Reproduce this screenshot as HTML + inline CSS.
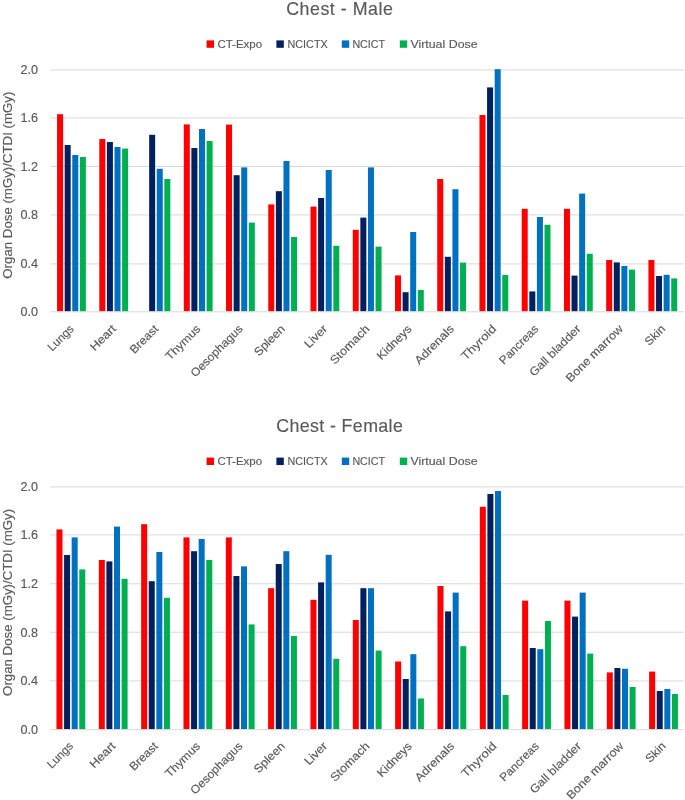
<!DOCTYPE html>
<html><head><meta charset="utf-8"><style>
html,body{margin:0;padding:0;background:#fff;}
body{width:685px;height:800px;overflow:hidden;}
svg{display:block;filter:blur(0.35px);}
text{font-family:"Liberation Sans", sans-serif;fill:#595959;stroke:#595959;stroke-width:0.15px;}
.yl{font-size:12.6px;}
.xl{font-size:11.6px;}
.tt{font-size:17.8px;}
.lg{font-size:11.2px;}
.yt{font-size:13.6px;}
</style></head><body>
<svg width="685" height="800" viewBox="0 0 685 800">
<rect width="685" height="800" fill="#fff"/>
<rect x="50.40" y="263.40" width="633.60" height="1" fill="#D9D9D9"/>
<rect x="50.40" y="214.43" width="633.60" height="1" fill="#D9D9D9"/>
<rect x="50.40" y="165.95" width="633.60" height="1" fill="#D9D9D9"/>
<rect x="50.40" y="117.43" width="633.60" height="1" fill="#D9D9D9"/>
<rect x="50.40" y="69.43" width="633.60" height="1" fill="#D9D9D9"/>
<text id="c0y0" x="38.0" y="316.30" text-anchor="end" class="yl">0.0</text>
<text id="c0y1" x="38.0" y="268.40" text-anchor="end" class="yl">0.4</text>
<text id="c0y2" x="38.0" y="219.43" text-anchor="end" class="yl">0.8</text>
<text id="c0y3" x="38.0" y="170.95" text-anchor="end" class="yl">1.2</text>
<text id="c0y4" x="38.0" y="122.43" text-anchor="end" class="yl">1.6</text>
<text id="c0y5" x="38.0" y="74.43" text-anchor="end" class="yl">2.0</text>
<rect x="57.07" y="114.20" width="6.0" height="197.20" fill="#FF0000"/>
<rect x="64.67" y="145.00" width="6.0" height="166.40" fill="#002060"/>
<rect x="72.27" y="155.00" width="6.0" height="156.40" fill="#0070C0"/>
<rect x="79.87" y="157.00" width="6.0" height="154.40" fill="#00B050"/>
<rect x="99.31" y="139.00" width="6.0" height="172.40" fill="#FF0000"/>
<rect x="106.91" y="142.00" width="6.0" height="169.40" fill="#002060"/>
<rect x="114.51" y="147.00" width="6.0" height="164.40" fill="#0070C0"/>
<rect x="122.11" y="148.60" width="6.0" height="162.80" fill="#00B050"/>
<rect x="149.15" y="134.80" width="6.0" height="176.60" fill="#002060"/>
<rect x="156.75" y="168.80" width="6.0" height="142.60" fill="#0070C0"/>
<rect x="164.35" y="179.00" width="6.0" height="132.40" fill="#00B050"/>
<rect x="183.79" y="124.40" width="6.0" height="187.00" fill="#FF0000"/>
<rect x="191.39" y="148.00" width="6.0" height="163.40" fill="#002060"/>
<rect x="198.99" y="129.00" width="6.0" height="182.40" fill="#0070C0"/>
<rect x="206.59" y="141.00" width="6.0" height="170.40" fill="#00B050"/>
<rect x="226.03" y="124.60" width="6.0" height="186.80" fill="#FF0000"/>
<rect x="233.63" y="175.20" width="6.0" height="136.20" fill="#002060"/>
<rect x="241.23" y="167.40" width="6.0" height="144.00" fill="#0070C0"/>
<rect x="248.83" y="222.60" width="6.0" height="88.80" fill="#00B050"/>
<rect x="268.27" y="204.40" width="6.0" height="107.00" fill="#FF0000"/>
<rect x="275.87" y="191.20" width="6.0" height="120.20" fill="#002060"/>
<rect x="283.47" y="161.00" width="6.0" height="150.40" fill="#0070C0"/>
<rect x="291.07" y="237.00" width="6.0" height="74.40" fill="#00B050"/>
<rect x="310.51" y="206.60" width="6.0" height="104.80" fill="#FF0000"/>
<rect x="318.11" y="198.00" width="6.0" height="113.40" fill="#002060"/>
<rect x="325.71" y="170.00" width="6.0" height="141.40" fill="#0070C0"/>
<rect x="333.31" y="245.80" width="6.0" height="65.60" fill="#00B050"/>
<rect x="352.75" y="229.80" width="6.0" height="81.60" fill="#FF0000"/>
<rect x="360.35" y="217.60" width="6.0" height="93.80" fill="#002060"/>
<rect x="367.95" y="167.40" width="6.0" height="144.00" fill="#0070C0"/>
<rect x="375.55" y="246.60" width="6.0" height="64.80" fill="#00B050"/>
<rect x="394.99" y="275.40" width="6.0" height="36.00" fill="#FF0000"/>
<rect x="402.59" y="292.20" width="6.0" height="19.20" fill="#002060"/>
<rect x="410.19" y="232.00" width="6.0" height="79.40" fill="#0070C0"/>
<rect x="417.79" y="290.00" width="6.0" height="21.40" fill="#00B050"/>
<rect x="437.23" y="179.00" width="6.0" height="132.40" fill="#FF0000"/>
<rect x="444.83" y="256.80" width="6.0" height="54.60" fill="#002060"/>
<rect x="452.43" y="189.20" width="6.0" height="122.20" fill="#0070C0"/>
<rect x="460.03" y="262.60" width="6.0" height="48.80" fill="#00B050"/>
<rect x="479.47" y="115.00" width="6.0" height="196.40" fill="#FF0000"/>
<rect x="487.07" y="87.40" width="6.0" height="224.00" fill="#002060"/>
<rect x="494.67" y="69.20" width="6.0" height="242.20" fill="#0070C0"/>
<rect x="502.27" y="275.00" width="6.0" height="36.40" fill="#00B050"/>
<rect x="521.71" y="208.80" width="6.0" height="102.60" fill="#FF0000"/>
<rect x="529.31" y="291.40" width="6.0" height="20.00" fill="#002060"/>
<rect x="536.91" y="217.00" width="6.0" height="94.40" fill="#0070C0"/>
<rect x="544.51" y="224.80" width="6.0" height="86.60" fill="#00B050"/>
<rect x="563.95" y="208.80" width="6.0" height="102.60" fill="#FF0000"/>
<rect x="571.55" y="275.60" width="6.0" height="35.80" fill="#002060"/>
<rect x="579.15" y="193.60" width="6.0" height="117.80" fill="#0070C0"/>
<rect x="586.75" y="253.80" width="6.0" height="57.60" fill="#00B050"/>
<rect x="606.19" y="260.00" width="6.0" height="51.40" fill="#FF0000"/>
<rect x="613.79" y="262.40" width="6.0" height="49.00" fill="#002060"/>
<rect x="621.39" y="266.00" width="6.0" height="45.40" fill="#0070C0"/>
<rect x="628.99" y="269.60" width="6.0" height="41.80" fill="#00B050"/>
<rect x="648.43" y="260.00" width="6.0" height="51.40" fill="#FF0000"/>
<rect x="656.03" y="276.00" width="6.0" height="35.40" fill="#002060"/>
<rect x="663.63" y="274.80" width="6.0" height="36.60" fill="#0070C0"/>
<rect x="671.23" y="278.40" width="6.0" height="33.00" fill="#00B050"/>
<rect x="50.40" y="311.30" width="633.60" height="1" fill="#D9D9D9"/>
<text id="c0x0" x="74.52" y="329.60" text-anchor="end" class="xl" transform="rotate(-45 74.52 329.60)" textLength="31.34" lengthAdjust="spacingAndGlyphs">Lungs</text>
<text id="c0x1" x="116.76" y="329.60" text-anchor="end" class="xl" transform="rotate(-45 116.76 329.60)" textLength="31.02" lengthAdjust="spacingAndGlyphs">Heart</text>
<text id="c0x2" x="159.00" y="329.60" text-anchor="end" class="xl" transform="rotate(-45 159.00 329.60)" textLength="34.73" lengthAdjust="spacingAndGlyphs">Breast</text>
<text id="c0x3" x="201.24" y="329.60" text-anchor="end" class="xl" transform="rotate(-45 201.24 329.60)" textLength="44.11" lengthAdjust="spacingAndGlyphs">Thymus</text>
<text id="c0x4" x="243.48" y="329.60" text-anchor="end" class="xl" transform="rotate(-45 243.48 329.60)" textLength="68.15" lengthAdjust="spacingAndGlyphs">Oesophagus</text>
<text id="c0x5" x="285.72" y="329.60" text-anchor="end" class="xl" transform="rotate(-45 285.72 329.60)" textLength="38.27" lengthAdjust="spacingAndGlyphs">Spleen</text>
<text id="c0x6" x="327.96" y="329.60" text-anchor="end" class="xl" transform="rotate(-45 327.96 329.60)" textLength="26.90" lengthAdjust="spacingAndGlyphs">Liver</text>
<text id="c0x7" x="370.20" y="329.60" text-anchor="end" class="xl" transform="rotate(-45 370.20 329.60)" textLength="49.97" lengthAdjust="spacingAndGlyphs">Stomach</text>
<text id="c0x8" x="412.44" y="329.60" text-anchor="end" class="xl" transform="rotate(-45 412.44 329.60)" textLength="43.73" lengthAdjust="spacingAndGlyphs">Kidneys</text>
<text id="c0x9" x="454.68" y="329.60" text-anchor="end" class="xl" transform="rotate(-45 454.68 329.60)" textLength="49.98" lengthAdjust="spacingAndGlyphs">Adrenals</text>
<text id="c0x10" x="496.92" y="329.60" text-anchor="end" class="xl" transform="rotate(-45 496.92 329.60)" textLength="44.11" lengthAdjust="spacingAndGlyphs">Thyroid</text>
<text id="c0x11" x="539.16" y="329.60" text-anchor="end" class="xl" transform="rotate(-45 539.16 329.60)" textLength="49.94" lengthAdjust="spacingAndGlyphs">Pancreas</text>
<text id="c0x12" x="581.40" y="329.60" text-anchor="end" class="xl" transform="rotate(-45 581.40 329.60)" textLength="67.14" lengthAdjust="spacingAndGlyphs">Gall bladder</text>
<text id="c0x13" x="623.64" y="329.60" text-anchor="end" class="xl" transform="rotate(-45 623.64 329.60)" textLength="75.10" lengthAdjust="spacingAndGlyphs">Bone marrow</text>
<text id="c0x14" x="665.88" y="329.60" text-anchor="end" class="xl" transform="rotate(-45 665.88 329.60)" textLength="23.39" lengthAdjust="spacingAndGlyphs">Skin</text>
<text id="c0t" x="339.5" y="14.80" text-anchor="middle" class="tt" textLength="106.60" lengthAdjust="spacing">Chest - Male</text>
<rect x="206.6" y="40.40" width="7.4" height="7.4" fill="#FF0000"/>
<text id="c0l0" x="217.4" y="48.00" class="lg" textLength="44.70" lengthAdjust="spacingAndGlyphs">CT-Expo</text>
<rect x="276.4" y="40.40" width="7.4" height="7.4" fill="#002060"/>
<text id="c0l1" x="287.5" y="48.00" class="lg" textLength="40.20" lengthAdjust="spacingAndGlyphs">NCICTX</text>
<rect x="341.8" y="40.40" width="7.4" height="7.4" fill="#0070C0"/>
<text id="c0l2" x="352.4" y="48.00" class="lg" textLength="32.70" lengthAdjust="spacingAndGlyphs">NCICT</text>
<rect x="399.8" y="40.40" width="7.4" height="7.4" fill="#00B050"/>
<text id="c0l3" x="410.4" y="48.00" class="lg" textLength="67.20" lengthAdjust="spacingAndGlyphs">Virtual Dose</text>
<text id="c0yt" x="12.3" y="185.20" text-anchor="middle" class="yt" transform="rotate(-90 12.3 185.20)" textLength="187.00" lengthAdjust="spacingAndGlyphs">Organ Dose (mGy)/CTDI (mGy)</text>
<rect x="50.00" y="680.43" width="634.00" height="1" fill="#D9D9D9"/>
<rect x="50.00" y="631.72" width="634.00" height="1" fill="#D9D9D9"/>
<rect x="50.00" y="583.28" width="634.00" height="1" fill="#D9D9D9"/>
<rect x="50.00" y="534.37" width="634.00" height="1" fill="#D9D9D9"/>
<rect x="50.00" y="486.43" width="634.00" height="1" fill="#D9D9D9"/>
<text id="c1y0" x="38.0" y="734.16" text-anchor="end" class="yl">0.0</text>
<text id="c1y1" x="38.0" y="685.43" text-anchor="end" class="yl">0.4</text>
<text id="c1y2" x="38.0" y="636.72" text-anchor="end" class="yl">0.8</text>
<text id="c1y3" x="38.0" y="588.28" text-anchor="end" class="yl">1.2</text>
<text id="c1y4" x="38.0" y="539.37" text-anchor="end" class="yl">1.6</text>
<text id="c1y5" x="38.0" y="491.43" text-anchor="end" class="yl">2.0</text>
<rect x="56.47" y="529.40" width="6.0" height="199.86" fill="#FF0000"/>
<rect x="64.07" y="555.00" width="6.0" height="174.26" fill="#002060"/>
<rect x="71.67" y="537.40" width="6.0" height="191.86" fill="#0070C0"/>
<rect x="79.27" y="569.40" width="6.0" height="159.86" fill="#00B050"/>
<rect x="98.80" y="560.00" width="6.0" height="169.26" fill="#FF0000"/>
<rect x="106.40" y="561.40" width="6.0" height="167.86" fill="#002060"/>
<rect x="114.00" y="526.60" width="6.0" height="202.66" fill="#0070C0"/>
<rect x="121.60" y="578.80" width="6.0" height="150.46" fill="#00B050"/>
<rect x="141.14" y="524.20" width="6.0" height="205.06" fill="#FF0000"/>
<rect x="148.74" y="581.20" width="6.0" height="148.06" fill="#002060"/>
<rect x="156.34" y="552.00" width="6.0" height="177.26" fill="#0070C0"/>
<rect x="163.94" y="597.80" width="6.0" height="131.46" fill="#00B050"/>
<rect x="183.47" y="537.40" width="6.0" height="191.86" fill="#FF0000"/>
<rect x="191.07" y="551.20" width="6.0" height="178.06" fill="#002060"/>
<rect x="198.67" y="539.00" width="6.0" height="190.26" fill="#0070C0"/>
<rect x="206.27" y="560.00" width="6.0" height="169.26" fill="#00B050"/>
<rect x="225.80" y="537.40" width="6.0" height="191.86" fill="#FF0000"/>
<rect x="233.40" y="576.00" width="6.0" height="153.26" fill="#002060"/>
<rect x="241.00" y="566.40" width="6.0" height="162.86" fill="#0070C0"/>
<rect x="248.60" y="624.40" width="6.0" height="104.86" fill="#00B050"/>
<rect x="268.13" y="588.20" width="6.0" height="141.06" fill="#FF0000"/>
<rect x="275.73" y="564.00" width="6.0" height="165.26" fill="#002060"/>
<rect x="283.33" y="551.20" width="6.0" height="178.06" fill="#0070C0"/>
<rect x="290.93" y="636.00" width="6.0" height="93.26" fill="#00B050"/>
<rect x="310.47" y="599.80" width="6.0" height="129.46" fill="#FF0000"/>
<rect x="318.07" y="582.40" width="6.0" height="146.86" fill="#002060"/>
<rect x="325.67" y="554.80" width="6.0" height="174.46" fill="#0070C0"/>
<rect x="333.27" y="658.80" width="6.0" height="70.46" fill="#00B050"/>
<rect x="352.80" y="620.00" width="6.0" height="109.26" fill="#FF0000"/>
<rect x="360.40" y="588.20" width="6.0" height="141.06" fill="#002060"/>
<rect x="368.00" y="588.20" width="6.0" height="141.06" fill="#0070C0"/>
<rect x="375.60" y="650.60" width="6.0" height="78.66" fill="#00B050"/>
<rect x="395.13" y="661.50" width="6.0" height="67.76" fill="#FF0000"/>
<rect x="402.73" y="679.00" width="6.0" height="50.26" fill="#002060"/>
<rect x="410.33" y="654.20" width="6.0" height="75.06" fill="#0070C0"/>
<rect x="417.93" y="698.50" width="6.0" height="30.76" fill="#00B050"/>
<rect x="437.47" y="586.00" width="6.0" height="143.26" fill="#FF0000"/>
<rect x="445.07" y="611.40" width="6.0" height="117.86" fill="#002060"/>
<rect x="452.67" y="592.60" width="6.0" height="136.66" fill="#0070C0"/>
<rect x="460.27" y="646.20" width="6.0" height="83.06" fill="#00B050"/>
<rect x="479.80" y="506.80" width="6.0" height="222.46" fill="#FF0000"/>
<rect x="487.40" y="494.00" width="6.0" height="235.26" fill="#002060"/>
<rect x="495.00" y="491.00" width="6.0" height="238.26" fill="#0070C0"/>
<rect x="502.60" y="695.00" width="6.0" height="34.26" fill="#00B050"/>
<rect x="522.13" y="600.60" width="6.0" height="128.66" fill="#FF0000"/>
<rect x="529.73" y="648.00" width="6.0" height="81.26" fill="#002060"/>
<rect x="537.33" y="649.20" width="6.0" height="80.06" fill="#0070C0"/>
<rect x="544.93" y="621.00" width="6.0" height="108.26" fill="#00B050"/>
<rect x="564.46" y="600.60" width="6.0" height="128.66" fill="#FF0000"/>
<rect x="572.06" y="616.60" width="6.0" height="112.66" fill="#002060"/>
<rect x="579.66" y="592.60" width="6.0" height="136.66" fill="#0070C0"/>
<rect x="587.26" y="653.60" width="6.0" height="75.66" fill="#00B050"/>
<rect x="606.80" y="672.40" width="6.0" height="56.86" fill="#FF0000"/>
<rect x="614.40" y="668.00" width="6.0" height="61.26" fill="#002060"/>
<rect x="622.00" y="668.80" width="6.0" height="60.46" fill="#0070C0"/>
<rect x="629.60" y="687.00" width="6.0" height="42.26" fill="#00B050"/>
<rect x="649.13" y="671.60" width="6.0" height="57.66" fill="#FF0000"/>
<rect x="656.73" y="691.00" width="6.0" height="38.26" fill="#002060"/>
<rect x="664.33" y="689.00" width="6.0" height="40.26" fill="#0070C0"/>
<rect x="671.93" y="694.00" width="6.0" height="35.26" fill="#00B050"/>
<rect x="50.00" y="729.16" width="634.00" height="1" fill="#D9D9D9"/>
<text id="c1x0" x="73.92" y="746.80" text-anchor="end" class="xl" transform="rotate(-45 73.92 746.80)" textLength="31.34" lengthAdjust="spacingAndGlyphs">Lungs</text>
<text id="c1x1" x="116.25" y="746.80" text-anchor="end" class="xl" transform="rotate(-45 116.25 746.80)" textLength="31.02" lengthAdjust="spacingAndGlyphs">Heart</text>
<text id="c1x2" x="158.59" y="746.80" text-anchor="end" class="xl" transform="rotate(-45 158.59 746.80)" textLength="34.73" lengthAdjust="spacingAndGlyphs">Breast</text>
<text id="c1x3" x="200.92" y="746.80" text-anchor="end" class="xl" transform="rotate(-45 200.92 746.80)" textLength="44.11" lengthAdjust="spacingAndGlyphs">Thymus</text>
<text id="c1x4" x="243.25" y="746.80" text-anchor="end" class="xl" transform="rotate(-45 243.25 746.80)" textLength="68.15" lengthAdjust="spacingAndGlyphs">Oesophagus</text>
<text id="c1x5" x="285.58" y="746.80" text-anchor="end" class="xl" transform="rotate(-45 285.58 746.80)" textLength="38.27" lengthAdjust="spacingAndGlyphs">Spleen</text>
<text id="c1x6" x="327.92" y="746.80" text-anchor="end" class="xl" transform="rotate(-45 327.92 746.80)" textLength="26.90" lengthAdjust="spacingAndGlyphs">Liver</text>
<text id="c1x7" x="370.25" y="746.80" text-anchor="end" class="xl" transform="rotate(-45 370.25 746.80)" textLength="49.97" lengthAdjust="spacingAndGlyphs">Stomach</text>
<text id="c1x8" x="412.58" y="746.80" text-anchor="end" class="xl" transform="rotate(-45 412.58 746.80)" textLength="43.73" lengthAdjust="spacingAndGlyphs">Kidneys</text>
<text id="c1x9" x="454.92" y="746.80" text-anchor="end" class="xl" transform="rotate(-45 454.92 746.80)" textLength="49.98" lengthAdjust="spacingAndGlyphs">Adrenals</text>
<text id="c1x10" x="497.25" y="746.80" text-anchor="end" class="xl" transform="rotate(-45 497.25 746.80)" textLength="44.11" lengthAdjust="spacingAndGlyphs">Thyroid</text>
<text id="c1x11" x="539.58" y="746.80" text-anchor="end" class="xl" transform="rotate(-45 539.58 746.80)" textLength="49.94" lengthAdjust="spacingAndGlyphs">Pancreas</text>
<text id="c1x12" x="581.91" y="746.80" text-anchor="end" class="xl" transform="rotate(-45 581.91 746.80)" textLength="67.14" lengthAdjust="spacingAndGlyphs">Gall bladder</text>
<text id="c1x13" x="624.25" y="746.80" text-anchor="end" class="xl" transform="rotate(-45 624.25 746.80)" textLength="75.10" lengthAdjust="spacingAndGlyphs">Bone marrow</text>
<text id="c1x14" x="666.58" y="746.80" text-anchor="end" class="xl" transform="rotate(-45 666.58 746.80)" textLength="23.39" lengthAdjust="spacingAndGlyphs">Skin</text>
<text id="c1t" x="339.5" y="432.00" text-anchor="middle" class="tt" textLength="126.70" lengthAdjust="spacing">Chest - Female</text>
<rect x="206.6" y="457.60" width="7.4" height="7.4" fill="#FF0000"/>
<text id="c1l0" x="217.4" y="465.20" class="lg" textLength="44.70" lengthAdjust="spacingAndGlyphs">CT-Expo</text>
<rect x="276.4" y="457.60" width="7.4" height="7.4" fill="#002060"/>
<text id="c1l1" x="287.5" y="465.20" class="lg" textLength="40.20" lengthAdjust="spacingAndGlyphs">NCICTX</text>
<rect x="341.8" y="457.60" width="7.4" height="7.4" fill="#0070C0"/>
<text id="c1l2" x="352.4" y="465.20" class="lg" textLength="32.70" lengthAdjust="spacingAndGlyphs">NCICT</text>
<rect x="399.8" y="457.60" width="7.4" height="7.4" fill="#00B050"/>
<text id="c1l3" x="410.4" y="465.20" class="lg" textLength="67.20" lengthAdjust="spacingAndGlyphs">Virtual Dose</text>
<text id="c1yt" x="12.3" y="602.40" text-anchor="middle" class="yt" transform="rotate(-90 12.3 602.40)" textLength="187.00" lengthAdjust="spacingAndGlyphs">Organ Dose (mGy)/CTDI (mGy)</text>
</svg>
</body></html>
